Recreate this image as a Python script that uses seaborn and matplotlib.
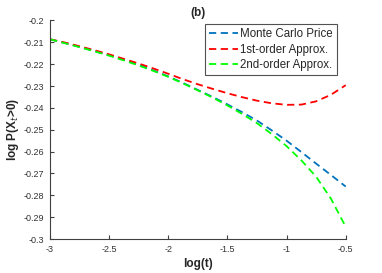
import numpy as np
import pandas as pd
import matplotlib
matplotlib.use("Agg")
import matplotlib.pyplot as plt
import seaborn as sns

# log(t) grid
log_t = [-3.0, -2.875, -2.75, -2.625, -2.5, -2.375, -2.25, -2.125, -2.0,
         -1.875, -1.75, -1.625, -1.5, -1.375, -1.25, -1.125, -1.0,
         -0.875, -0.75, -0.625, -0.5]

monte_carlo = [-0.2086, -0.2103, -0.2121, -0.2140, -0.2159, -0.2180, -0.2203,
               -0.2229, -0.2256, -0.2286, -0.2318, -0.2350, -0.2384, -0.2420,
               -0.2458, -0.2503, -0.2550, -0.2602, -0.2655, -0.2707, -0.2760]

first_order = [-0.2086, -0.2101, -0.2118, -0.2136, -0.2155, -0.2176, -0.2197,
               -0.2220, -0.2244, -0.2269, -0.2292, -0.2313, -0.2333, -0.2351,
               -0.2367, -0.2379, -0.2386, -0.2385, -0.2370, -0.2340, -0.2296]

second_order = [-0.2086, -0.2104, -0.2122, -0.2141, -0.2161, -0.2183, -0.2206,
                -0.2231, -0.2258, -0.2288, -0.2320, -0.2353, -0.2389, -0.2428,
                -0.2470, -0.2520, -0.2575, -0.2640, -0.2715, -0.2815, -0.2944]

labels = ["Monte Carlo Price", "1st-order Approx.", "2nd-order Approx."]
colors = ["#0072BD", "#FF0000", "#00FF00"]

x_ticks = [-3, -2.5, -2, -1.5, -1, -0.5]
x_ticklabels = ["-3", "-2.5", "-2", "-1.5", "-1", "-0.5"]
y_ticks = [-0.3, -0.29, -0.28, -0.27, -0.26, -0.25, -0.24, -0.23, -0.22, -0.21, -0.2]
y_ticklabels = ["-0.3", "-0.29", "-0.28", "-0.27", "-0.26", "-0.25",
                "-0.24", "-0.23", "-0.22", "-0.21", "-0.2"]

sns.set_style("ticks")
plt.rcParams["font.family"] = ["Liberation Sans", "DejaVu Sans"]

fig = plt.figure(figsize=(3.82, 2.73), dpi=100)
ax = fig.add_axes([0.131, 0.1245, 0.774, 0.8005])

series = [monte_carlo, first_order, second_order]
for vals, lab, col in zip(series, labels, colors):
    df = pd.DataFrame({"log_t": log_t, "val": vals})
    sns.lineplot(data=df, x="log_t", y="val", ax=ax, color=col, label=lab,
                 linewidth=1.3, linestyle=(0, (4, 2.5)))

ax.set_xlim(-3, -0.5)
ax.set_ylim(-0.3, -0.2)
ax.set_xticks(x_ticks)
ax.set_xticklabels(x_ticklabels)
ax.set_yticks(y_ticks)
ax.set_yticklabels(y_ticklabels)
ax.tick_params(direction="in", length=3, width=0.8, labelsize=6.5,
               colors="#404040", labelcolor="#333333", pad=4)
for side in ["top", "right"]:
    ax.spines[side].set_visible(False)
for side in ["left", "bottom"]:
    ax.spines[side].set_color("#404040")
    ax.spines[side].set_linewidth(0.8)

ax.set_xlabel("log(t)", fontsize=8.5, fontweight="bold", labelpad=3)
ax.set_ylabel(r"log P(X$_t$>0)", fontsize=8.5, fontweight="bold", labelpad=2)
ax.set_title("(b)", fontsize=8.5, fontweight="bold", pad=3)

leg = ax.legend(loc="upper right", bbox_to_anchor=(0.9706, 0.984),
                borderaxespad=0, fontsize=8.3, frameon=True, fancybox=False,
                handlelength=2.5, handletextpad=0.2, labelspacing=0.28,
                borderpad=0.38)
leg.get_frame().set_edgecolor("#262626")
leg.get_frame().set_linewidth(0.8)

fig.savefig("out.png", dpi=100)
